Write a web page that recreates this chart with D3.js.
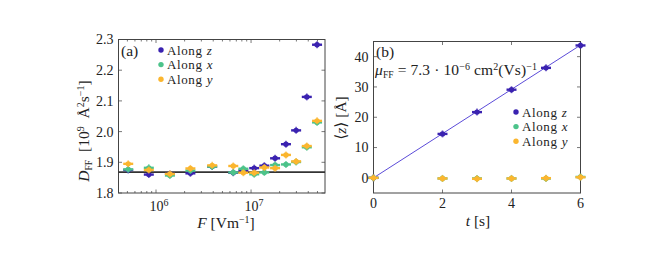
<!DOCTYPE html>
<html>
<head>
<meta charset="utf-8">
<script src="https://cdn.jsdelivr.net/npm/d3@7"></script>
<style>
  body { margin: 0; background: #fff; }
  svg { display: block; }
</style>
</head>
<body>
<svg width="666" height="266" font-family="'Liberation Serif', 'DejaVu Serif', serif" fill="#222"></svg>
<script>
// panel (a): D_FF against field strength
var fieldF = [5.1e5, 8.4e5, 1.4e6, 2.3e6, 3.9e6, 6.5e6, 8.3e6, 1.08e7, 1.38e7, 1.79e7, 2.33e7, 2.98e7, 3.86e7, 4.95e7];
var dAlongZ = [1.875, 1.860, 1.862, 1.864, 1.886, 1.866, 1.873, 1.881, 1.889, 1.913, 1.959, 2.004, 2.113, 2.283];
var dAlongX = [1.877, 1.882, 1.857, 1.873, 1.886, 1.867, 1.879, 1.861, 1.867, 1.891, 1.893, 1.901, 1.949, 2.030];
var dAlongY = [1.895, 1.875, 1.862, 1.880, 1.890, 1.888, 1.866, 1.866, 1.883, 1.881, 1.924, 1.903, 1.953, 2.035];
var dZeroField = 1.868;
var dTicks = [1.8, 1.9, 2.0, 2.1, 2.2, 2.3];

// panel (b): mean displacement against time
var times = [0, 2, 3, 4, 5, 6];
var zAlongZ = [0, 14.5, 21.7, 29.1, 36.3, 43.7];
var zAlongX = [0, -0.2, -0.2, -0.2, -0.2, 0.3];
var zAlongY = [0, -0.2, -0.3, -0.2, -0.1, 0.2];
var fitSlope = 7.3; // Å per s
var tTicks = [0, 2, 4, 6];
var zTicks = [0, 10, 20, 30, 40];

var seriesNames = ["z", "x", "y"];
var colors = ["#3a22b0", "#4cc38a", "#fbb62f"];

var FS = 14, LS = 15.5, SUP = 10;

var svg = d3.select("svg");
svg.append("rect").attr("width", 666).attr("height", 266).attr("fill", "#fff");

// scales
var xA = d3.scaleLog().domain([4.03e5, 6.0e7]).range([118.5, 325]);
var yA = d3.scaleLinear().domain([1.8, 2.3]).range([193, 39.5]);
var xB = d3.scaleLinear().domain([0, 6]).range([373.5, 580.5]);
var yB = d3.scaleLinear().domain([-5, 45]).range([193, 41.5]);

// draw ticks on all four sides, pointing inward
function frame(x, y, xt, yt, xMinor) {
  var g = svg.append("g");
  var x0 = x.range()[0], x1 = x.range()[1], y0 = y.range()[0], y1 = y.range()[1];
  var tick = function(list, len) {
    list.forEach(function(v) {
      g.append("line").attr("x1", x(v)).attr("x2", x(v)).attr("y1", y0).attr("y2", y0 - len);
      g.append("line").attr("x1", x(v)).attr("x2", x(v)).attr("y1", y1).attr("y2", y1 + len);
    });
  };
  tick(xt, 3.5);
  if (xMinor) tick(xMinor, 2);
  yt.forEach(function(v) {
    g.append("line").attr("x1", x0).attr("x2", x0 + 3.5).attr("y1", y(v)).attr("y2", y(v));
    g.append("line").attr("x1", x1).attr("x2", x1 - 3.5).attr("y1", y(v)).attr("y2", y(v));
  });
  g.selectAll("line").attr("stroke", "#555").attr("stroke-width", 0.8);
  g.append("rect").attr("x", x0).attr("y", y1).attr("width", x1 - x0).attr("height", y0 - y1)
    .attr("fill", "none").attr("stroke", "#444").attr("stroke-width", 1);
  return g;
}

function marker(g, cx, cy, color) {
  var m = g.append("g");
  m.append("line").attr("x1", cx - 5).attr("x2", cx + 5).attr("y1", cy).attr("y2", cy)
    .attr("stroke", color).attr("stroke-width", 2.4);
  m.append("line").attr("x1", cx).attr("x2", cx).attr("y1", cy - 3.5).attr("y2", cy + 3.5)
    .attr("stroke", color).attr("stroke-width", 1.6).attr("opacity", 0.7);
  m.append("circle").attr("cx", cx).attr("cy", cy).attr("r", 2.7).attr("fill", color);
}

function sup(t, s) {
  t.append("tspan").attr("dy", -5.5).attr("font-size", SUP).text(s);
}
function down(t, s) {
  t.append("tspan").attr("dy", 5.5).text(s);
}

// ---------- panel (a)
var minorA = [];
[1e5, 1e6, 1e7].forEach(function(dec) {
  for (var k = 2; k <= 9; k++) {
    var v = k * dec;
    if (v > xA.domain()[0] && v < xA.domain()[1]) minorA.push(v);
  }
});
frame(xA, yA, [1e6, 1e7], dTicks, minorA);

svg.append("line")
  .attr("x1", xA.range()[0]).attr("x2", xA.range()[1])
  .attr("y1", yA(dZeroField)).attr("y2", yA(dZeroField))
  .attr("stroke", "#333").attr("stroke-width", 1.6);

var gA = svg.append("g");
[dAlongZ, dAlongX, dAlongY].forEach(function(arr, s) {
  arr.forEach(function(d, i) { marker(gA, xA(fieldF[i]), yA(d), colors[s]); });
});

// y tick labels
dTicks.forEach(function(v) {
  svg.append("text").attr("x", xA.range()[0] - 5).attr("y", yA(v)).attr("dy", "0.35em")
    .attr("text-anchor", "end").attr("font-size", FS).text(d3.format(".1f")(v));
});
// x tick labels 10^n
[1e6, 1e7].forEach(function(v) {
  var t = svg.append("text").attr("x", xA(v) + 3).attr("y", 211).attr("text-anchor", "middle").attr("font-size", FS);
  t.append("tspan").text("10");
  sup(t, Math.round(Math.log10(v)));
});

// axis titles
var tx = svg.append("text").attr("x", 226).attr("y", 228).attr("text-anchor", "middle").attr("font-size", LS);
tx.append("tspan").attr("font-style", "italic").text("F");
tx.append("tspan").text(" [Vm");
sup(tx, "\u22121");
down(tx, "]");

var ty = svg.append("text").attr("transform", "translate(89,131) rotate(-90)")
  .attr("text-anchor", "middle").attr("font-size", LS).attr("word-spacing", 4);
ty.append("tspan").attr("font-style", "italic").text("D");
ty.append("tspan").attr("dy", 3).attr("font-size", 9.5).text("FF");
ty.append("tspan").attr("dy", -3).text(" [10");
sup(ty, "9");
down(ty, " \u00c5");
sup(ty, "2");
down(ty, "s");
sup(ty, "\u22121");
down(ty, "]");

svg.append("text").attr("x", 121).attr("y", 56).attr("font-size", LS).text("(a)");

function legend(x0, y0) {
  seriesNames.forEach(function(name, i) {
    var yy = y0 + i * 14.6;
    svg.append("circle").attr("cx", x0).attr("cy", yy).attr("r", 2.7).attr("fill", colors[i]);
    var t = svg.append("text").attr("x", x0 + 6).attr("y", yy).attr("dy", "0.35em")
      .attr("font-size", 13).attr("letter-spacing", 0.6).attr("word-spacing", 0.5);
    t.append("tspan").text("Along ");
    t.append("tspan").attr("font-style", "italic").text(name);
  });
}
legend(161, 50);

// ---------- panel (b)
frame(xB, yB, tTicks, zTicks, null);

svg.append("line")
  .attr("x1", xB(0)).attr("x2", xB(6))
  .attr("y1", yB(0)).attr("y2", yB(fitSlope * 6))
  .attr("stroke", "#5b4bd8").attr("stroke-width", 1);

var gB = svg.append("g");
[zAlongZ, zAlongX, zAlongY].forEach(function(arr, s) {
  arr.forEach(function(d, i) { marker(gB, xB(times[i]), yB(d), colors[s]); });
});

tTicks.forEach(function(v) {
  svg.append("text").attr("x", xB(v)).attr("y", 208).attr("text-anchor", "middle")
    .attr("font-size", FS).text(v);
});
zTicks.forEach(function(v) {
  svg.append("text").attr("x", xB.range()[0] - 5).attr("y", yB(v)).attr("dy", "0.35em")
    .attr("text-anchor", "end").attr("font-size", FS).text(v);
});

var tt = svg.append("text").attr("x", 478).attr("y", 226).attr("text-anchor", "middle").attr("font-size", LS);
tt.append("tspan").attr("font-style", "italic").text("t");
tt.append("tspan").text(" [s]");

var tz = svg.append("text").attr("transform", "translate(346,118) rotate(-90)")
  .attr("text-anchor", "middle").attr("font-size", LS);
tz.append("tspan").text("\u27e8");
tz.append("tspan").attr("font-style", "italic").text("z");
tz.append("tspan").text("\u27e9 [\u00c5]");

svg.append("text").attr("x", 376).attr("y", 57).attr("font-size", LS).text("(b)");

var mu = svg.append("text").attr("x", 375).attr("y", 75).attr("font-size", LS)
  .attr("textLength", 162).attr("lengthAdjust", "spacing");
mu.append("tspan").attr("font-style", "italic").text("\u03bc");
mu.append("tspan").attr("dy", 3).attr("font-size", 9.5).text("FF");
mu.append("tspan").attr("dy", -3).text(" = 7.3 \u00b7 10");
sup(mu, "\u22126");
down(mu, " cm");
sup(mu, "2");
down(mu, "(Vs)");
sup(mu, "\u22121");

legend(516, 112);
</script>
</body>
</html>
